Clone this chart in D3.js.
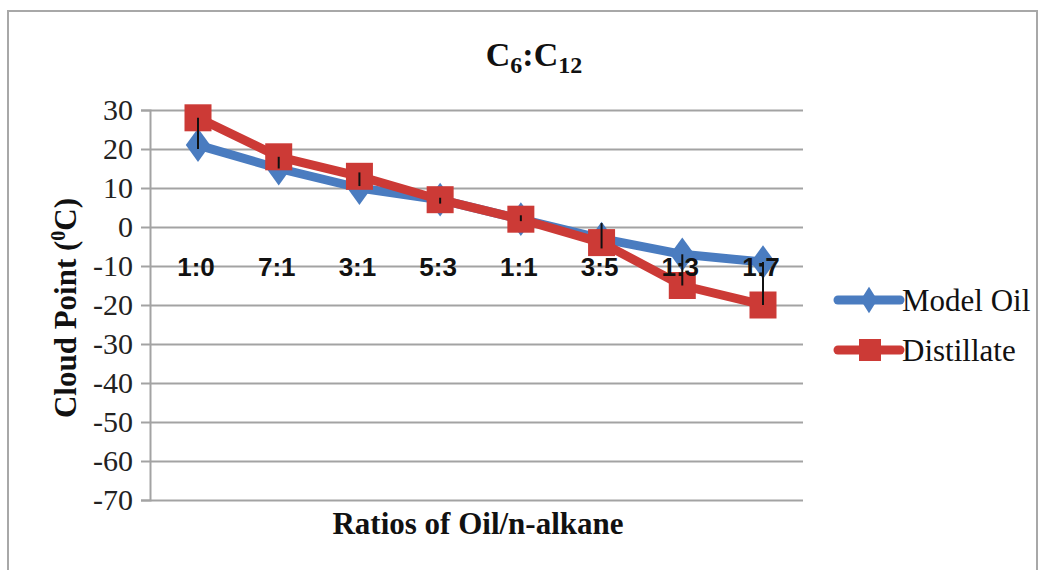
<!DOCTYPE html>
<html>
<head>
<meta charset="utf-8">
<script src="https://cdn.jsdelivr.net/npm/d3@7"></script>
<style>
  body { margin: 0; background: #fff; }
  svg { display: block; }
</style>
</head>
<body>
<div id="wrap"></div>
<script>
const ratios = ["1:0", "7:1", "3:1", "5:3", "1:1", "3:5", "1:3", "1:7"];
const modelOil = [21, 15, 10, 7, 2, -3, -7, -9];
const distillate = [28, 18, 13, 7, 2, -4, -15, -20];
// vertical bars drawn over the markers
const errLow = [20, 15, 10.5, 6, 1.5, -5.5, -15, -20];
const errHigh = [28, 18, 14, 7.5, 3, 1, -7, -9];
const yTicks = [30, 20, 10, 0, -10, -20, -30, -40, -50, -60, -70];

const width = 1049;
const height = 570;
const margin = { left: 150, right: 246, top: 110, bottom: 70 };
const plotW = width - margin.left - margin.right;
const plotH = height - margin.top - margin.bottom;

const blue = "#4a7cc0";
const red = "#cc3a36";
const grid = "#a3a3a3";
const serif = "'Liberation Serif', 'Times New Roman', serif";

const svg = d3.select("#wrap").append("svg")
    .attr("width", width)
    .attr("height", height);

// outer frame
svg.append("rect")
    .attr("x", 8).attr("y", 11)
    .attr("width", 1029).attr("height", 580)
    .attr("fill", "none")
    .attr("stroke", "#a8a8a8")
    .attr("stroke-width", 2);

const g = svg.append("g")
    .attr("transform", `translate(${margin.left},${margin.top})`);

const x = d3.scalePoint()
    .domain(ratios)
    .range([48, plotW - 40]);

const y = d3.scaleLinear()
    .domain([-70, 30])
    .range([plotH, 0]);

// gridlines
g.append("g")
    .call(d3.axisLeft(y).tickValues(yTicks).tickSize(-plotW).tickFormat(""))
    .call(s => s.select(".domain").remove())
    .selectAll("line")
    .attr("stroke", grid)
    .attr("stroke-width", 2);

// y axis with labels
const yAxis = g.append("g")
    .call(d3.axisLeft(y).tickValues(yTicks).tickFormat(d => String(d))
        .tickSizeInner(9).tickSizeOuter(9).tickPadding(8));
yAxis.select(".domain").attr("stroke", grid).attr("stroke-width", 2);
yAxis.selectAll(".tick line").attr("stroke", grid).attr("stroke-width", 2);
yAxis.selectAll(".tick text")
    .attr("font-family", serif)
    .attr("font-size", 30)
    .attr("fill", "#222");

const line = d3.line()
    .x((d, i) => x(ratios[i]))
    .y(d => y(d));

g.append("path")
    .datum(modelOil)
    .attr("d", line)
    .attr("fill", "none")
    .attr("stroke", blue)
    .attr("stroke-width", 9)
    .attr("stroke-linejoin", "round");

g.append("path")
    .datum(distillate)
    .attr("d", line)
    .attr("fill", "none")
    .attr("stroke", red)
    .attr("stroke-width", 9)
    .attr("stroke-linejoin", "round");

const diamond = d3.symbol().type(d3.symbolDiamond).size(330);

g.selectAll(".mo")
    .data(modelOil)
    .join("path")
    .attr("class", "mo")
    .attr("transform", (d, i) => `translate(${x(ratios[i])},${y(d)}) scale(1.25,1)`)
    .attr("d", diamond)
    .attr("fill", blue);

const sq = 27;
g.selectAll(".di")
    .data(distillate)
    .join("rect")
    .attr("class", "di")
    .attr("x", (d, i) => x(ratios[i]) - sq / 2)
    .attr("y", d => y(d) - sq / 2)
    .attr("width", sq)
    .attr("height", sq)
    .attr("fill", red);

// bars
g.selectAll(".err")
    .data(ratios)
    .join("line")
    .attr("class", "err")
    .attr("x1", d => x(d)).attr("x2", d => x(d))
    .attr("y1", (d, i) => y(errLow[i]))
    .attr("y2", (d, i) => y(errHigh[i]))
    .attr("stroke", "#111")
    .attr("stroke-width", 2);

// category labels sit near the zero line
g.selectAll(".cat")
    .data(ratios)
    .join("text")
    .attr("class", "cat")
    .attr("x", d => x(d) - 2)
    .attr("y", y(-10) + 10)
    .attr("text-anchor", "middle")
    .attr("font-family", "'Liberation Sans', Arial, sans-serif")
    .attr("font-weight", "bold")
    .attr("font-size", 26)
    .attr("fill", "#111")
    .text(d => d);

// title
const title = svg.append("text")
    .attr("x", 534)
    .attr("y", 66)
    .attr("text-anchor", "middle")
    .attr("font-family", serif)
    .attr("font-weight", "bold")
    .attr("font-size", 34)
    .attr("fill", "#111");
title.append("tspan").text("C");
title.append("tspan").attr("font-size", 24).attr("dy", 7).text("6");
title.append("tspan").attr("dy", -7).text(":C");
title.append("tspan").attr("font-size", 24).attr("dy", 7).text("12");

// x title
svg.append("text")
    .attr("x", 478)
    .attr("y", 534)
    .attr("text-anchor", "middle")
    .attr("font-family", serif)
    .attr("font-weight", "bold")
    .attr("font-size", 31)
    .attr("fill", "#111")
    .text("Ratios of Oil/n-alkane");

// y title
const yTitle = svg.append("text")
    .attr("transform", "translate(76,308) rotate(-90)")
    .attr("text-anchor", "middle")
    .attr("font-family", serif)
    .attr("font-weight", "bold")
    .attr("font-size", 31)
    .attr("fill", "#111");
yTitle.append("tspan").text("Cloud Point (");
yTitle.append("tspan").attr("font-size", 20).attr("dy", -11).text("0");
yTitle.append("tspan").attr("dy", 11).text("C)");

// legend
const legend = svg.append("g").attr("transform", "translate(838,0)");
const items = [
    { name: "Model Oil", color: blue, ly: 300 },
    { name: "Distillate", color: red, ly: 350 }
];
items.forEach(it => {
    legend.append("line")
        .attr("x1", 0).attr("x2", 62)
        .attr("y1", it.ly).attr("y2", it.ly)
        .attr("stroke", it.color)
        .attr("stroke-width", 9)
        .attr("stroke-linecap", "round");
    if (it.name === "Model Oil") {
        legend.append("path")
            .attr("transform", `translate(31,${it.ly}) scale(1.1,1)`)
            .attr("d", d3.symbol().type(d3.symbolDiamond).size(200))
            .attr("fill", it.color);
    } else {
        legend.append("rect")
            .attr("x", 21).attr("y", it.ly - 11)
            .attr("width", 22).attr("height", 22)
            .attr("fill", it.color);
    }
    legend.append("text")
        .attr("x", 64)
        .attr("y", it.ly + 11)
        .attr("font-family", serif)
        .attr("font-size", 31)
        .attr("fill", "#111")
        .text(it.name);
});
</script>
</body>
</html>
